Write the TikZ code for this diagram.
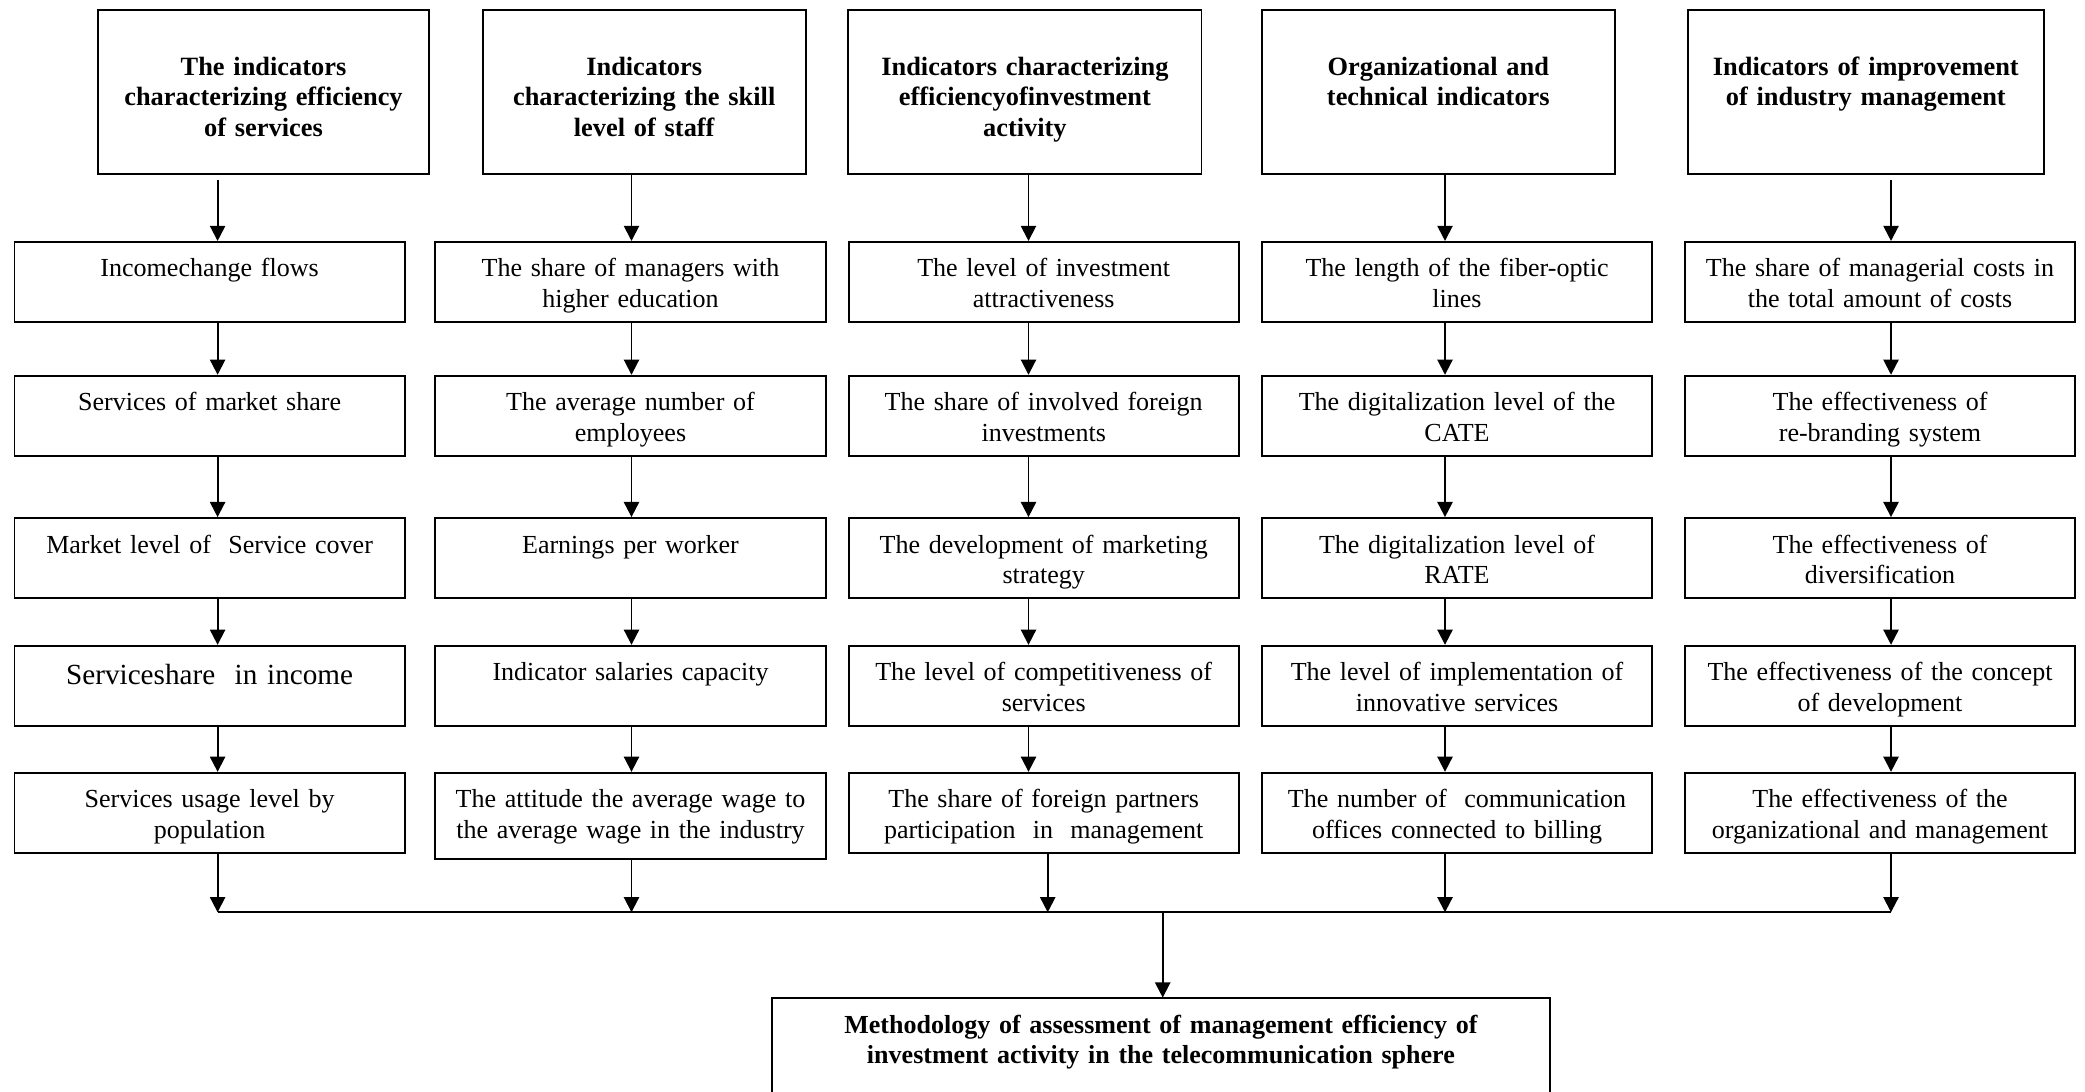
\documentclass[tikz,border=0pt]{standalone}
\usepackage{fontspec}
\setmainfont{Liberation Serif}
\usepackage{tikz}
\usetikzlibrary{positioning,arrows.meta}

\begin{document}
\begin{tikzpicture}[
    x=0.01cm, y=-0.01cm,
    headnode/.style={rectangle, draw=black, line width=0.55pt, inner sep=0pt, align=center, anchor=north, font=\fontsize{7.5}{8.6}\selectfont\bfseries, text height=0.66cm, text depth=0.984cm},
    itemnode/.style={rectangle, draw=black, line width=0.55pt, inner sep=0pt, align=center, text width=3.9cm, font=\fontsize{7.4}{8.6}\selectfont, text height=0.35cm, text depth=0.45cm},
    flow/.style={->, >={Triangle[length=4.3pt,width=4.3pt]}, draw=black, line width=0.55pt}
    ]
        \useasboundingbox (0,0) rectangle (2085,1092);

        %Nodes
        \node[headnode]
            (g1)    [text width=3.302cm] at (263.5,8.6)    {The indicators\\ characterizing efficiency\\ of services};
        \node[headnode]
            (g2)    [text width=3.227cm] at (644.2,8.6)    {Indicators\\ characterizing the skill\\ level of staff};
        \node[headnode]
            (g3)    [text width=3.529cm] at (1024.9,8.6)   {Indicators characterizing\\ efficiencyofinvestment\\ activity};
        \node[headnode]
            (g4)    [text width=3.525cm] at (1438.3,8.6)   {Organizational and\\ technical indicators};
        \node[headnode]
            (g5)    [text width=3.559cm] at (1865.8,8.6)   {Indicators of improvement\\ of industry management};

        \node[itemnode]
            (g1a)   [anchor=north] at (209.6,241)   {Incomechange flows};
        \node[itemnode]
            (g1b)   [below=0.518cm of g1a]   {Services of market share};
        \node[itemnode]
            (g1c)   [below=0.603cm of g1b]   {Market level of~ Service cover};
        \node[itemnode]
            (g1d)   [below=0.457cm of g1c, font=\fontsize{8.3}{9.4}\selectfont, text height=0.39cm, text depth=0.41cm]   {Serviceshare~ in income};
        \node[itemnode]
            (g1e)   [below=0.45cm of g1d]    {Services usage level by\\ population};

        \node[itemnode]
            (g2a)   [anchor=north] at (630.5,241)   {The share of managers with\\ higher education};
        \node[itemnode]
            (g2b)   [below=0.518cm of g2a]   {The average number of\\ employees};
        \node[itemnode]
            (g2c)   [below=0.603cm of g2b]   {Earnings per worker};
        \node[itemnode]
            (g2d)   [below=0.457cm of g2c]   {Indicator salaries capacity};
        \node[itemnode]
            (g2e)   [below=0.45cm of g2d, text depth=0.51cm]    {The attitude the average wage to\\ the average wage in the industry};

        \node[itemnode]
            (g3a)   [anchor=north] at (1043.7,241)  {The level of investment\\ attractiveness};
        \node[itemnode]
            (g3b)   [below=0.518cm of g3a]   {The share of involved foreign\\ investments};
        \node[itemnode]
            (g3c)   [below=0.603cm of g3b]   {The development of marketing\\ strategy};
        \node[itemnode]
            (g3d)   [below=0.457cm of g3c]   {The level of competitiveness of\\ services};
        \node[itemnode]
            (g3e)   [below=0.45cm of g3d]    {The share of foreign partners\\ participation~ in~ management};

        \node[itemnode]
            (g4a)   [anchor=north] at (1457,241)    {The length of the fiber-optic\\ lines};
        \node[itemnode]
            (g4b)   [below=0.518cm of g4a]   {The digitalization level of the\\ CATE};
        \node[itemnode]
            (g4c)   [below=0.603cm of g4b]   {The digitalization level of\\ RATE};
        \node[itemnode]
            (g4d)   [below=0.457cm of g4c]   {The level of implementation of\\ innovative services};
        \node[itemnode]
            (g4e)   [below=0.45cm of g4d]    {The number of~ communication\\ offices connected to billing};

        \node[itemnode]
            (g5a)   [anchor=north] at (1880,241)    {The share of managerial costs in\\ the total amount of costs};
        \node[itemnode]
            (g5b)   [below=0.518cm of g5a]   {The effectiveness of\\ re-branding system};
        \node[itemnode]
            (g5c)   [below=0.603cm of g5b]   {The effectiveness of\\ diversification};
        \node[itemnode]
            (g5d)   [below=0.457cm of g5c]   {The effectiveness of the concept\\ of development};
        \node[itemnode]
            (g5e)   [below=0.45cm of g5d]    {The effectiveness of the\\ organizational and management};

        \node[align=center, inner sep=0pt, anchor=north, text width=7.757cm, font=\fontsize{7.4}{8.6}\selectfont\bfseries, text height=0.354cm, text depth=0.6cm]
            (res)   at (1160.9,997.6)   {Methodology of assessment of management efficiency of\\ investment activity in the telecommunication sphere};

        %Bus points
        \coordinate (a1) at (217.6,912.3);
        \coordinate (a2) at (631.5,912.3);
        \coordinate (a3) at (1028.5,912.3);
        \coordinate (b3) at (1047.7,912.3);
        \coordinate (a4) at (1445,912.3);
        \coordinate (a5) at (1891,912.3);
        \coordinate (bm) at (1162.7,912.3);

        %Lines
        \draw[flow, shorten <=0.05cm] (g1.south -| a1) -- (g1a.north -| a1);
        \draw[flow] (g1a.south -| a1) -- (g1b.north -| a1);
        \draw[flow] (g1b.south -| a1) -- (g1c.north -| a1);
        \draw[flow] (g1c.south -| a1) -- (g1d.north -| a1);
        \draw[flow] (g1d.south -| a1) -- (g1e.north -| a1);
        \draw[flow] (g1e.south -| a1) -- (a1);

        \draw[flow] (g2.south -| a2) -- (g2a.north -| a2);
        \draw[flow] (g2a.south -| a2) -- (g2b.north -| a2);
        \draw[flow] (g2b.south -| a2) -- (g2c.north -| a2);
        \draw[flow] (g2c.south -| a2) -- (g2d.north -| a2);
        \draw[flow] (g2d.south -| a2) -- (g2e.north -| a2);
        \draw[flow] (g2e.south -| a2) -- (a2);

        \draw[flow] (g3.south -| a3) -- (g3a.north -| a3);
        \draw[flow] (g3a.south -| a3) -- (g3b.north -| a3);
        \draw[flow] (g3b.south -| a3) -- (g3c.north -| a3);
        \draw[flow] (g3c.south -| a3) -- (g3d.north -| a3);
        \draw[flow] (g3d.south -| a3) -- (g3e.north -| a3);
        \draw[flow] (g3e.south -| b3) -- (b3);

        \draw[flow] (g4.south -| a4) -- (g4a.north -| a4);
        \draw[flow] (g4a.south -| a4) -- (g4b.north -| a4);
        \draw[flow] (g4b.south -| a4) -- (g4c.north -| a4);
        \draw[flow] (g4c.south -| a4) -- (g4d.north -| a4);
        \draw[flow] (g4d.south -| a4) -- (g4e.north -| a4);
        \draw[flow] (g4e.south -| a4) -- (a4);

        \draw[flow, shorten <=0.05cm] (g5.south -| a5) -- (g5a.north -| a5);
        \draw[flow] (g5a.south -| a5) -- (g5b.north -| a5);
        \draw[flow] (g5b.south -| a5) -- (g5c.north -| a5);
        \draw[flow] (g5c.south -| a5) -- (g5d.north -| a5);
        \draw[flow] (g5d.south -| a5) -- (g5e.north -| a5);
        \draw[flow] (g5e.south -| a5) -- (a5);

        \draw[line width=0.55pt] (a1) -- (a5);
        \draw[flow] (bm) -- (res.north -| bm);
        \draw[line width=0.55pt] (res.south west) |- (res.north east) -- (res.south east);
    \end{tikzpicture}
\end{document}
